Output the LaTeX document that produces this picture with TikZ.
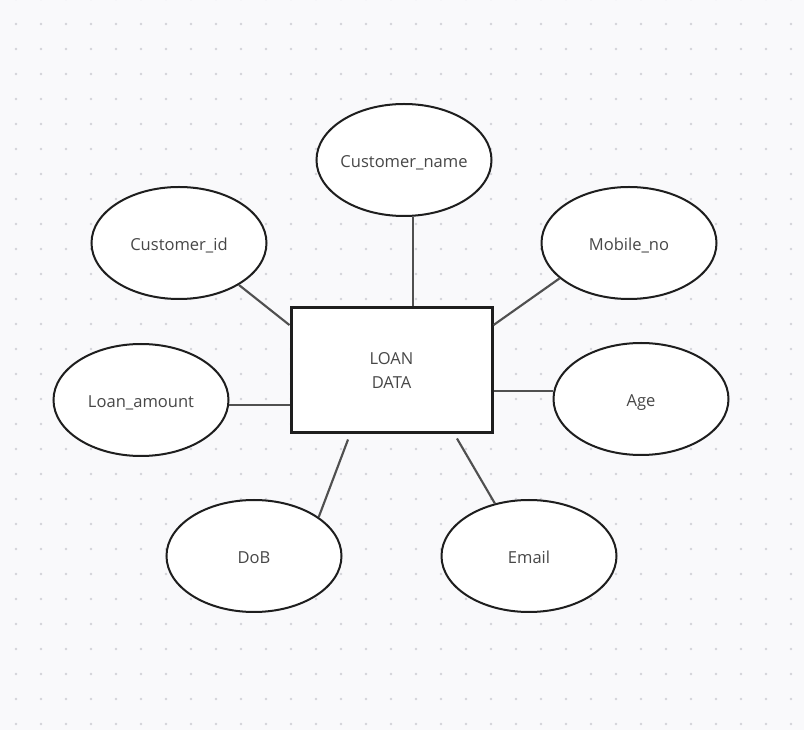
\documentclass[tikz,border=0pt]{standalone}
\usepackage{fontspec}
\setmainfont{Open Sans}
\usepackage{tikz}
\usetikzlibrary{shapes.geometric}
\definecolor{paper}{HTML}{F9F9FB}
\definecolor{dotc}{HTML}{D3D3D8}
\definecolor{txt}{HTML}{474747}
\definecolor{edge}{HTML}{505050}
\definecolor{rim}{HTML}{1E1E1E}
\begin{document}
\begin{tikzpicture}
          [x=0.75pt, y=-0.75pt,
           every node/.style={text=txt, font=\fontsize{12.4pt}{18pt}\selectfont},
           attr/.style={draw=rim, line width=1.5pt, fill=white, ellipse,
                        inner xsep=-10pt, inner ysep=0pt,
                        text height=14pt, text depth=3pt,
                        minimum width=131.25pt, minimum height=84pt},
           entity/.style={draw=rim, line width=2.25pt, fill=white, rectangle, align=center,
                          minimum width=150.75pt, minimum height=93.75pt},
           link/.style={draw=edge, line width=1.6pt}]
          \useasboundingbox (0,0) rectangle (804,730);
          \fill[paper] (0,0) rectangle (804,730);
          \foreach \i in {0,...,31}
            \foreach \j in {0,...,29}
              \fill[dotc] (16+25*\i, -1+25*\j) circle (1pt);

          \node (box) [entity] at (391.5,370.5) {LOAN\\DATA};
          \node (cname) [attr] at (404,160) {Customer\_name};
          \node (cid) [attr] at (179,243) {Customer\_id};
          \node (mob) [attr] at (629,243) {Mobile\_no};
          \node (lamt) [attr] at (141,400) {Loan\_amount};
          \node (age) [attr] at (641,399) {Age};
          \node (dob) [attr] at (254,556) {DoB};
          \node (email) [attr] at (529,556) {Email};

          \draw[link] ([xshift=6.75pt]cname.south) -- ([xshift=6.75pt]cname.south |- box.north);
          \draw[link] (cid.-35) -- (box.156);
          \draw[link] (mob.207) -- (box.24);
          \draw[link] (lamt.-3) -- (lamt.-3 -| box.west);
          \draw[link] (age.175 -| box.east) -- (age.175);
          \draw[link] (dob.31) -- ([xshift=-32.6pt, yshift=-3.75pt]box.south);
          \draw[link] (email.123) -- ([xshift=49.1pt, yshift=-3pt]box.south);
        \end{tikzpicture}
\end{document}
